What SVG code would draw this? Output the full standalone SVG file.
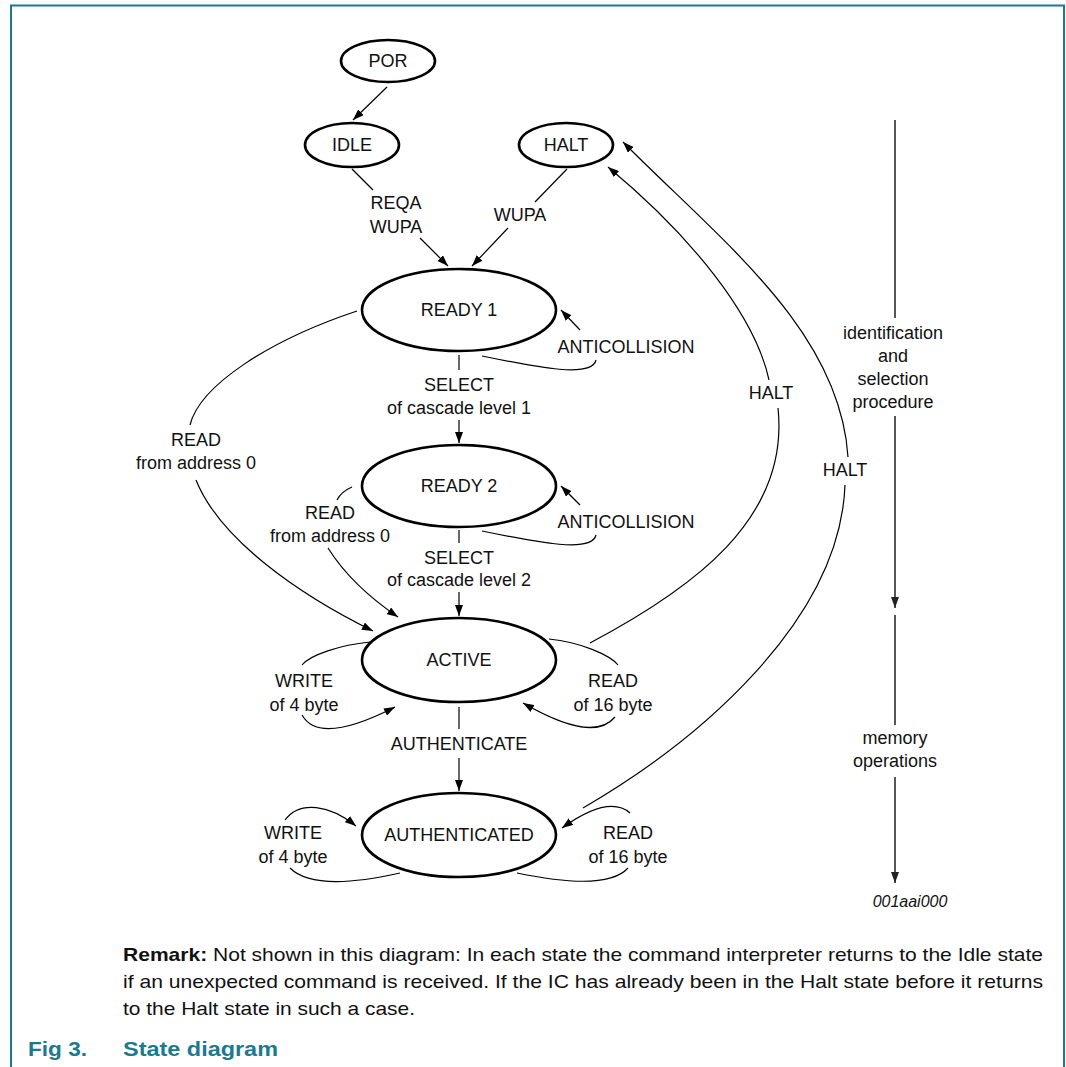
<svg xmlns="http://www.w3.org/2000/svg" width="1066" height="1067" viewBox="0 0 1066 1067">
<style>
.node ellipse{fill:#fff;stroke:#000;stroke-width:2.6}
text{font-family:"Liberation Sans",Arial,sans-serif;font-size:18px;fill:#111;text-anchor:middle}
.c path{fill:none;stroke:#000;stroke-width:1.2}
.side{fill:none;stroke:#444;stroke-width:1.8}
.frame{stroke:#1b7a8c;stroke-width:2;fill:none}
.rem{text-anchor:start;font-size:19px}
.cap{text-anchor:start;font-weight:bold;fill:#1b7a8f;font-size:21px}
</style>
<defs>
<marker id="ah" markerUnits="userSpaceOnUse" markerWidth="11" markerHeight="8" refX="11" refY="4" orient="auto"><path d="M0,0 L11,4 L0,8 z" fill="#000"/></marker>
<marker id="ahg" markerUnits="userSpaceOnUse" markerWidth="11" markerHeight="8" refX="11" refY="4" orient="auto"><path d="M0,0 L11,4 L0,8 z" fill="#222"/></marker>
</defs>
<rect width="1066" height="1067" fill="#fff"/>
<path class="frame" d="M11,1067 L11,5.5 L1064,5.5 L1064,1067"/>

<g id="por" class="node"><ellipse cx="388" cy="61" rx="47" ry="21"/><text x="388" y="67">POR</text></g>
<g id="idle" class="node"><ellipse cx="352" cy="145" rx="47" ry="22"/><text x="352" y="151">IDLE</text></g>
<g id="halt" class="node"><ellipse cx="566" cy="145" rx="47" ry="22"/><text x="566" y="151">HALT</text></g>
<g id="ready1" class="node"><ellipse cx="459" cy="310" rx="97" ry="41"/><text x="459" y="316">READY 1</text></g>
<g id="ready2" class="node"><ellipse cx="459" cy="486" rx="97" ry="41"/><text x="459" y="492">READY 2</text></g>
<g id="active" class="node"><ellipse cx="459" cy="660" rx="97" ry="42"/><text x="459" y="666">ACTIVE</text></g>
<g id="authenticated" class="node"><ellipse cx="459" cy="835" rx="97" ry="42"/><text x="459" y="841">AUTHENTICATED</text></g>

<g id="connectors" class="c">
<path d="M387,87 L353,120" marker-end="url(#ah)"/>
<path d="M352,169 L373,190"/>
<path d="M420,238 L448,266" marker-end="url(#ah)"/>
<path d="M567,169 L535,202"/>
<path d="M508,228 L472,266" marker-end="url(#ah)"/>
<path d="M459,355 L459,370"/>
<path d="M459,420 L459,443" marker-end="url(#ah)"/>
<path d="M459,530 L459,543"/>
<path d="M459,592 L459,616" marker-end="url(#ah)"/>
<path d="M459,707 L459,729"/>
<path d="M459,758 L459,791" marker-end="url(#ah)"/>
<path d="M482,356 C540,368 592,378 596,360"/>
<path d="M580,330 L561,310" marker-end="url(#ah)"/>
<path d="M482,531 C540,543 592,553 596,535"/>
<path d="M580,505 L561,486" marker-end="url(#ah)"/>
<path d="M357,311 C270,340 200,385 190,425"/>
<path d="M196,480 C220,540 300,595 373,631" marker-end="url(#ah)"/>
<path d="M352,487 C345,490 340,494 337,500"/>
<path d="M328,548 C345,575 370,598 398,617" marker-end="url(#ah)"/>
<path d="M370,642 C340,645 310,655 302,665"/>
<path d="M302,715 C315,738 350,730 395,707" marker-end="url(#ah)"/>
<path d="M549,639 C580,642 610,655 618,665"/>
<path d="M615,717 C600,735 570,730 523,703" marker-end="url(#ah)"/>
<path d="M590,643 C690,590 790,520 778,408"/>
<path d="M769,380 C755,315 690,235 608,167" marker-end="url(#ah)"/>
<path d="M583,808 C700,740 840,620 845,485"/>
<path d="M848,457 C840,330 720,240 623,142" marker-end="url(#ah)"/>
<path d="M285,820 C300,800 330,805 356,826" marker-end="url(#ah)"/>
<path d="M290,868 C310,888 360,882 400,873"/>
<path d="M630,813 C615,800 590,808 562,828" marker-end="url(#ah)"/>
<path d="M628,868 C610,888 560,882 517,873"/>
</g>

<g id="labels">
<text x="396" y="209">REQA</text>
<text x="396" y="233">WUPA</text>
<text x="520" y="221">WUPA</text>
<text x="626" y="353">ANTICOLLISION</text>
<text x="626" y="528">ANTICOLLISION</text>
<text x="459" y="391">SELECT</text>
<text x="459" y="414">of cascade level 1</text>
<text x="459" y="564">SELECT</text>
<text x="459" y="586">of cascade level 2</text>
<text x="196" y="446">READ</text>
<text x="196" y="469">from address 0</text>
<text x="330" y="519">READ</text>
<text x="330" y="542">from address 0</text>
<text x="304" y="687">WRITE</text>
<text x="304" y="711">of 4 byte</text>
<text x="613" y="687">READ</text>
<text x="613" y="711">of 16 byte</text>
<text x="459" y="750">AUTHENTICATE</text>
<text x="293" y="839">WRITE</text>
<text x="293" y="863">of 4 byte</text>
<text x="628" y="839">READ</text>
<text x="628" y="863">of 16 byte</text>
<text x="771" y="399">HALT</text>
<text x="845" y="476">HALT</text>
</g>

<g id="phases">
<path class="side" d="M895,120 L895,318"/>
<path class="side" d="M895,416 L895,608" marker-end="url(#ahg)"/>
<path class="side" d="M895,615 L895,725"/>
<path class="side" d="M895,777 L895,883" marker-end="url(#ahg)"/>
<text x="893" y="339">identification</text>
<text x="893" y="362">and</text>
<text x="893" y="385">selection</text>
<text x="893" y="408">procedure</text>
<text x="895" y="744">memory</text>
<text x="895" y="767">operations</text>
<text x="910" y="907" style="font-style:italic;font-size:16px">001aai000</text>
</g>

<g id="remark">
<text class="rem" x="123" y="961" textLength="920" lengthAdjust="spacingAndGlyphs"><tspan font-weight="bold">Remark:</tspan> Not shown in this diagram: In each state the command interpreter returns to the Idle state</text>
<text class="rem" x="123" y="988" textLength="920" lengthAdjust="spacingAndGlyphs">if an unexpected command is received. If the IC has already been in the Halt state before it returns</text>
<text class="rem" x="123" y="1015" textLength="292" lengthAdjust="spacingAndGlyphs">to the Halt state in such a case.</text>
</g>
<g id="caption">
<text class="cap" x="28" y="1056" textLength="59" lengthAdjust="spacingAndGlyphs">Fig 3.</text>
<text class="cap" x="123" y="1056" textLength="155" lengthAdjust="spacingAndGlyphs">State diagram</text>
</g>
</svg>
